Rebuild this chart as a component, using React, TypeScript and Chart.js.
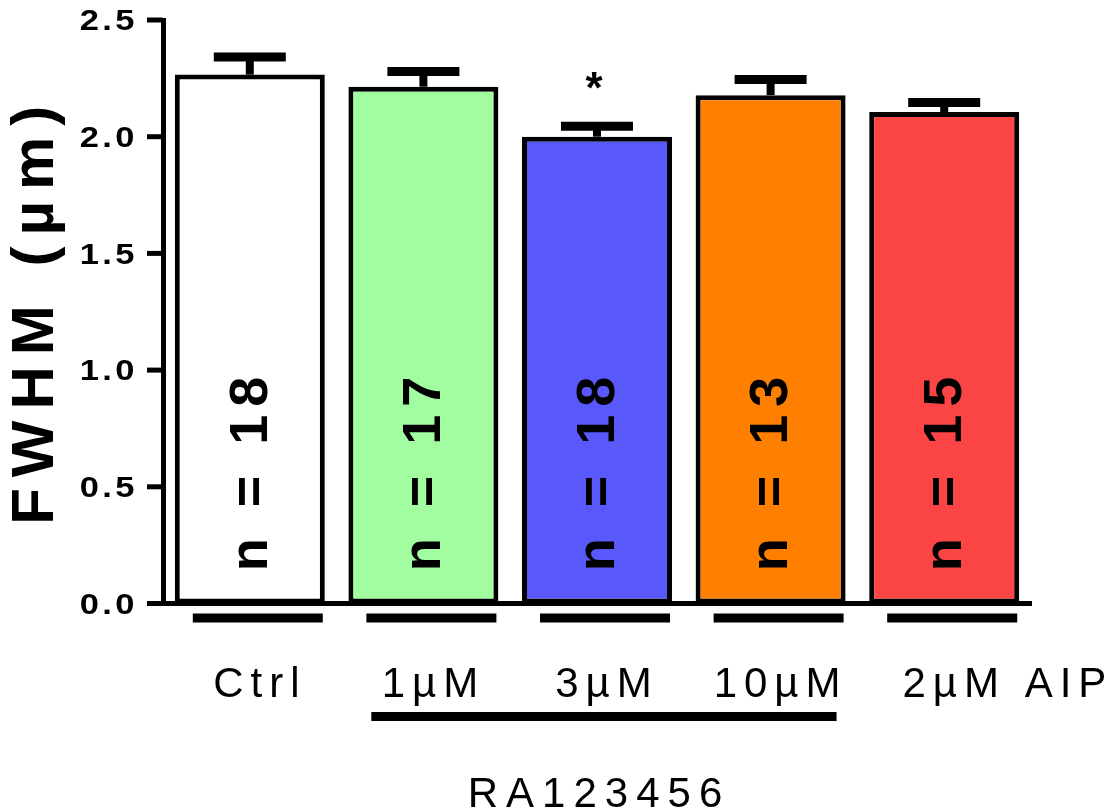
import React, { useEffect, useRef } from "react";
import { Chart, registerables } from "chart.js";

Chart.register(...registerables);

// ---- data ----
const categories = ["Ctrl", "1µM", "3µM", "10µM", "2µM AIP"];
const means = [2.266, 2.214, 2.0, 2.178, 2.106];
const sems = [0.075, 0.065, 0.045, 0.067, 0.04];
const nCounts = [18, 17, 18, 13, 15];
const significance = ["", "", "*", "", ""];
const barColors = ["#ffffff", "#a2fda0", "#5858fb", "#ff8000", "#fb4444"];
const yTicks = [0, 0.5, 1.0, 1.5, 2.0, 2.5];
const yTitle = "FWHM (µm)";
const groupLabel = "RA123456";
const groupMembers = [1, 2, 3];

const FONT = '"Liberation Sans", Arial, Helvetica, sans-serif';

function setLS(ctx: any, v: string) {
  try {
    ctx.letterSpacing = v;
  } catch (e) {}
}

const annotPlugin = {
  id: "annot",
  afterDraw(chart: any) {
    const ctx = chart.ctx;
    const y = chart.scales.y;
    const x = chart.scales.x;
    const area = chart.chartArea;
    const meta = chart.getDatasetMeta(0);
    ctx.save();
    ctx.fillStyle = "#000";
    ctx.strokeStyle = "#000";

    // y ticks and labels
    ctx.lineCap = "butt";
    yTicks.forEach((v) => {
      const py = y.getPixelForValue(v);
      ctx.lineWidth = 5;
      ctx.beginPath();
      ctx.moveTo(area.left - 16, py);
      ctx.lineTo(area.left, py);
      ctx.stroke();
      ctx.save();
      ctx.translate(area.left - 25, py + 2);
      ctx.scale(1.15, 1);
      ctx.font = `bold 30px ${FONT}`;
      setLS(ctx, "3px");
      ctx.textAlign = "right";
      ctx.textBaseline = "middle";
      ctx.fillText(v.toFixed(1), 0, 0);
      ctx.restore();
    });

    // y title
    ctx.save();
    ctx.translate(36, (area.top + area.bottom) / 2 - 2);
    ctx.rotate(-Math.PI / 2);
    ctx.font = `bold 60px ${FONT}`;
    setLS(ctx, "11px");
    ctx.textAlign = "center";
    ctx.textBaseline = "middle";
    ctx.fillText(yTitle, 0, 0);
    ctx.restore();

    // error bars, n labels, significance, underlines, category labels
    meta.data.forEach((bar: any, i: number) => {
      const cx = bar.x;
      const top = y.getPixelForValue(means[i]);
      const errY = y.getPixelForValue(means[i] + sems[i]);
      const capHalf = bar.width * 0.24;
      ctx.lineWidth = 8;
      ctx.beginPath();
      ctx.moveTo(cx, top);
      ctx.lineTo(cx, errY);
      ctx.stroke();
      ctx.lineWidth = 9;
      ctx.beginPath();
      ctx.moveTo(cx - capHalf, errY);
      ctx.lineTo(cx + capHalf, errY);
      ctx.stroke();

      // n label
      ctx.save();
      ctx.translate(cx + 2, y.getPixelForValue(0.572));
      ctx.rotate(-Math.PI / 2);
      ctx.font = `bold 54px ${FONT}`;
      setLS(ctx, "8px");
      ctx.textAlign = "center";
      ctx.textBaseline = "middle";
      ctx.fillText(`n = ${nCounts[i]}`, 0, 0);
      ctx.restore();

      // significance
      if (significance[i]) {
        ctx.save();
        ctx.font = `bold 44px ${FONT}`;
        setLS(ctx, "0px");
        ctx.textAlign = "center";
        ctx.textBaseline = "alphabetic";
        ctx.fillText(significance[i], cx - 3, errY - 23);
        ctx.restore();
      }

      // underline under bar
      const ux = cx + 8;
      ctx.lineWidth = 9;
      ctx.beginPath();
      ctx.moveTo(ux - 65, area.bottom + 14.5);
      ctx.lineTo(ux + 65, area.bottom + 14.5);
      ctx.stroke();

      // category label
      ctx.save();
      ctx.font = `42px ${FONT}`;
      setLS(ctx, "7px");
      ctx.textBaseline = "alphabetic";
      const label = categories[i];
      const first = label.split(" ")[0];
      const w = ctx.measureText(first).width;
      ctx.textAlign = "left";
      ctx.fillText(label, cx + 10 - w / 2, area.bottom + 93.5);
      ctx.restore();
    });

    // group bracket
    const cw = x.getPixelForValue(1) - x.getPixelForValue(0);
    const gl = x.getPixelForValue(groupMembers[0]) - cw * 0.3;
    const gr = x.getPixelForValue(groupMembers[groupMembers.length - 1]) + cw * 0.38;
    ctx.lineWidth = 9;
    ctx.beginPath();
    ctx.moveTo(gl, area.bottom + 113);
    ctx.lineTo(gr, area.bottom + 113);
    ctx.stroke();
    const mid = groupMembers[Math.floor(groupMembers.length / 2)];
    ctx.font = `42px ${FONT}`;
    setLS(ctx, "8px");
    ctx.textAlign = "center";
    ctx.textBaseline = "alphabetic";
    ctx.fillText(groupLabel, x.getPixelForValue(mid) + 2, area.bottom + 203);
    ctx.restore();
  },
};

export default function App() {
  const ref = useRef<HTMLCanvasElement | null>(null);
  useEffect(() => {
    if (!ref.current) return;
    const chart = new Chart(ref.current, {
      type: "bar",
      data: {
        labels: categories,
        datasets: [
          {
            data: means,
            backgroundColor: barColors,
            borderColor: "#000",
            borderWidth: 5,
            borderSkipped: false,
            barPercentage: 0.864,
            categoryPercentage: 1,
          },
        ],
      },
      options: {
        responsive: false,
        maintainAspectRatio: false,
        animation: false,
        devicePixelRatio: 1,
        layout: { padding: { left: 0, right: 79, top: 20, bottom: 0 } },
        plugins: { legend: { display: false }, tooltip: { enabled: false } },
        scales: {
          x: {
            grid: { display: false },
            ticks: { display: false },
            border: { display: true, color: "#000", width: 5 },
            afterFit: (s: any) => {
              s.height = 205.5;
            },
          },
          y: {
            min: 0,
            max: 2.5,
            grid: { display: false },
            ticks: { display: false, stepSize: 0.5 },
            border: { display: true, color: "#000", width: 5 },
            afterFit: (s: any) => {
              s.width = 163;
            },
          },
        },
      } as any,
      plugins: [annotPlugin],
    });
    return () => chart.destroy();
  }, []);
  return (
    <div style={{ position: "fixed", left: 0, top: 0, width: 1110, height: 809, background: "#fff" }}>
      <canvas ref={ref} width={1110} height={809} style={{ width: 1110, height: 809, display: "block" }} />
    </div>
  );
}
